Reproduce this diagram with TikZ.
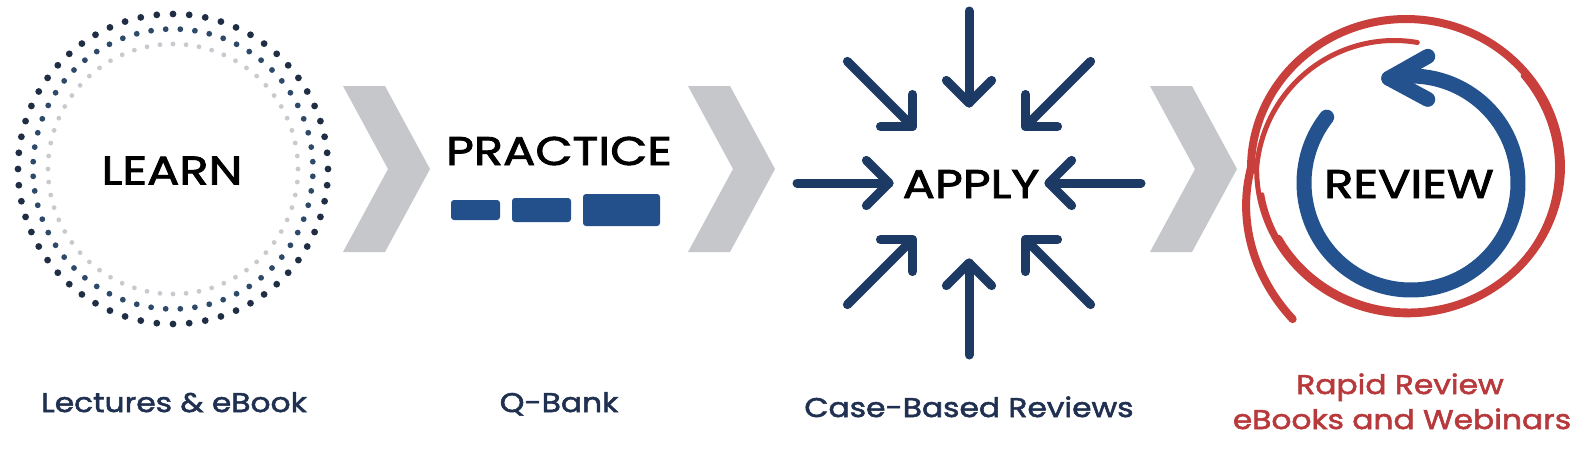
\documentclass[tikz,border=0pt]{standalone}
\usepackage{fontspec}
\setmainfont{Poppins}
\newfontfamily\titlefont[FakeBold=2.2, FakeStretch=1.2]{Poppins}
\newfontfamily\labelfont[FakeBold=2.0, FakeStretch=1.16]{Poppins}
\usetikzlibrary{calc}
\definecolor{navy}{HTML}{1D3A65}
\definecolor{barblue}{HTML}{23508A}
\definecolor{revblue}{HTML}{23528E}
\definecolor{chevgrey}{HTML}{C6C7CB}
\definecolor{dotA}{HTML}{1F2D45}
\definecolor{dotB}{HTML}{2E4A6A}
\definecolor{dotC}{HTML}{C9CACF}
\definecolor{swred}{HTML}{C93F3B}
\definecolor{labblue}{HTML}{1F3050}
\definecolor{labred}{HTML}{B8393B}
\begin{document}
\begin{tikzpicture}[x=1pt,y=-1pt,
  title/.style={font=\titlefont\fontsize{40}{44}\selectfont, text=black, inner sep=0pt, anchor=base},
  lab/.style={font=\labelfont\fontsize{27}{30}\selectfont, text=labblue, inner sep=0pt, anchor=base},
  chev/.style={fill=chevgrey},
  bar/.style={fill=barblue, rounded corners=3pt},
  inarrow/.style={draw=navy, line width=9pt, line cap=round, line join=round},
  bluearc/.style={draw=revblue, line width=15pt, line cap=round, line join=round},
  swirl/.style={draw=swred, line cap=round, line join=round}]
\path[use as bounding box, fill=white] (0,0) rectangle (1591,456);

% ---------- LEARN ----------
\coordinate (L) at (173,169);
\begin{scope}[shift={(L)}]
  \foreach \i in {0,...,59} {
    \fill[dotA] (\i*6:155) circle[radius=3.4];
    \fill[dotB] (\i*6+3:140) circle[radius=2.9];
    \fill[dotC] (\i*6:125) circle[radius=2.4];
  }
\end{scope}
\node[title] (learn) at (172,184.5) {LEARN};

% ---------- chevrons ----------
\foreach \x/\n in {343/c1,688/c2,1150/c3} {
  \fill[chev] (\x,86) -- (\x+42,86) -- (\x+87,169) -- (\x+42,252) -- (\x,252) -- (\x+45,169) -- cycle;
}

% ---------- PRACTICE ----------
\node[title] (practice) at (559,165) {PRACTICE};
\fill[bar] (451,200) rectangle (500,220);
\fill[bar] (512,198) rectangle (571,222);
\fill[bar] (583,194) rectangle (660,226);

% ---------- APPLY ----------
\coordinate (A) at (969,183);
\node[title] (apply) at (971,198) {APPLY};
\begin{scope}[shift={(A)}]
  \foreach \a in {0,45,...,315} {
    \draw[inarrow] (\a:172) -- (\a:80);
    \draw[inarrow] ($(\a:80)+(\a+45:32)$) -- (\a:80) -- ($(\a:80)+(\a-45:32)$);
  }
\end{scope}

% ---------- REVIEW ----------
\draw[swirl, line width=8pt] plot[domain=-150:234, samples=220, variable=\t]
  ({1406+(155+0.7*max(\t-180,0)-0.05*max(-\t,0))*cos(\t)},
   {168-(149+0.7*max(\t-180,0)-0.05*max(-\t,0))*sin(\t)});
\draw[swirl, line width=5pt] plot[domain=85:420, samples=220, variable=\t]
  ({1406+1.03*(min(126+0.2*(\t-85),145)+0.02*max(\t-180,0))*cos(\t)},
   {168-(min(126+0.2*(\t-85),145)+0.02*max(\t-180,0))*sin(\t)});
\draw[swirl, line width=4pt] plot[domain=190:400, samples=200, variable=\t]
  ({1406+(146+0.03*(\t-190))*cos(\t)},
   {170-(140+0.03*(\t-190))*sin(\t)});

\coordinate (B) at (1411,183);
\draw[bluearc] ($(B)+(-142:107)$) arc[start angle=-142, end angle=-462, radius=107] coordinate (tip);
\draw[bluearc] ($(tip)+(39,-22)$) -- (tip) -- ($(tip)+(39,21)$);
\node[title] (review) at (1409,198) {REVIEW};

% ---------- labels ----------
\node[lab] (l1) at (174,412) {Lectures \& eBook};
\node[lab] (l2) at (559,412) {Q-Bank};
\node[lab] (l3) at (969,417) {Case-Based Reviews};
\node[lab, text=labred] (l4a) at (1400,394) {Rapid Review};
\node[lab, text=labred] (l4b) at (1402,429) {eBooks and Webinars};
\end{tikzpicture}
\end{document}
